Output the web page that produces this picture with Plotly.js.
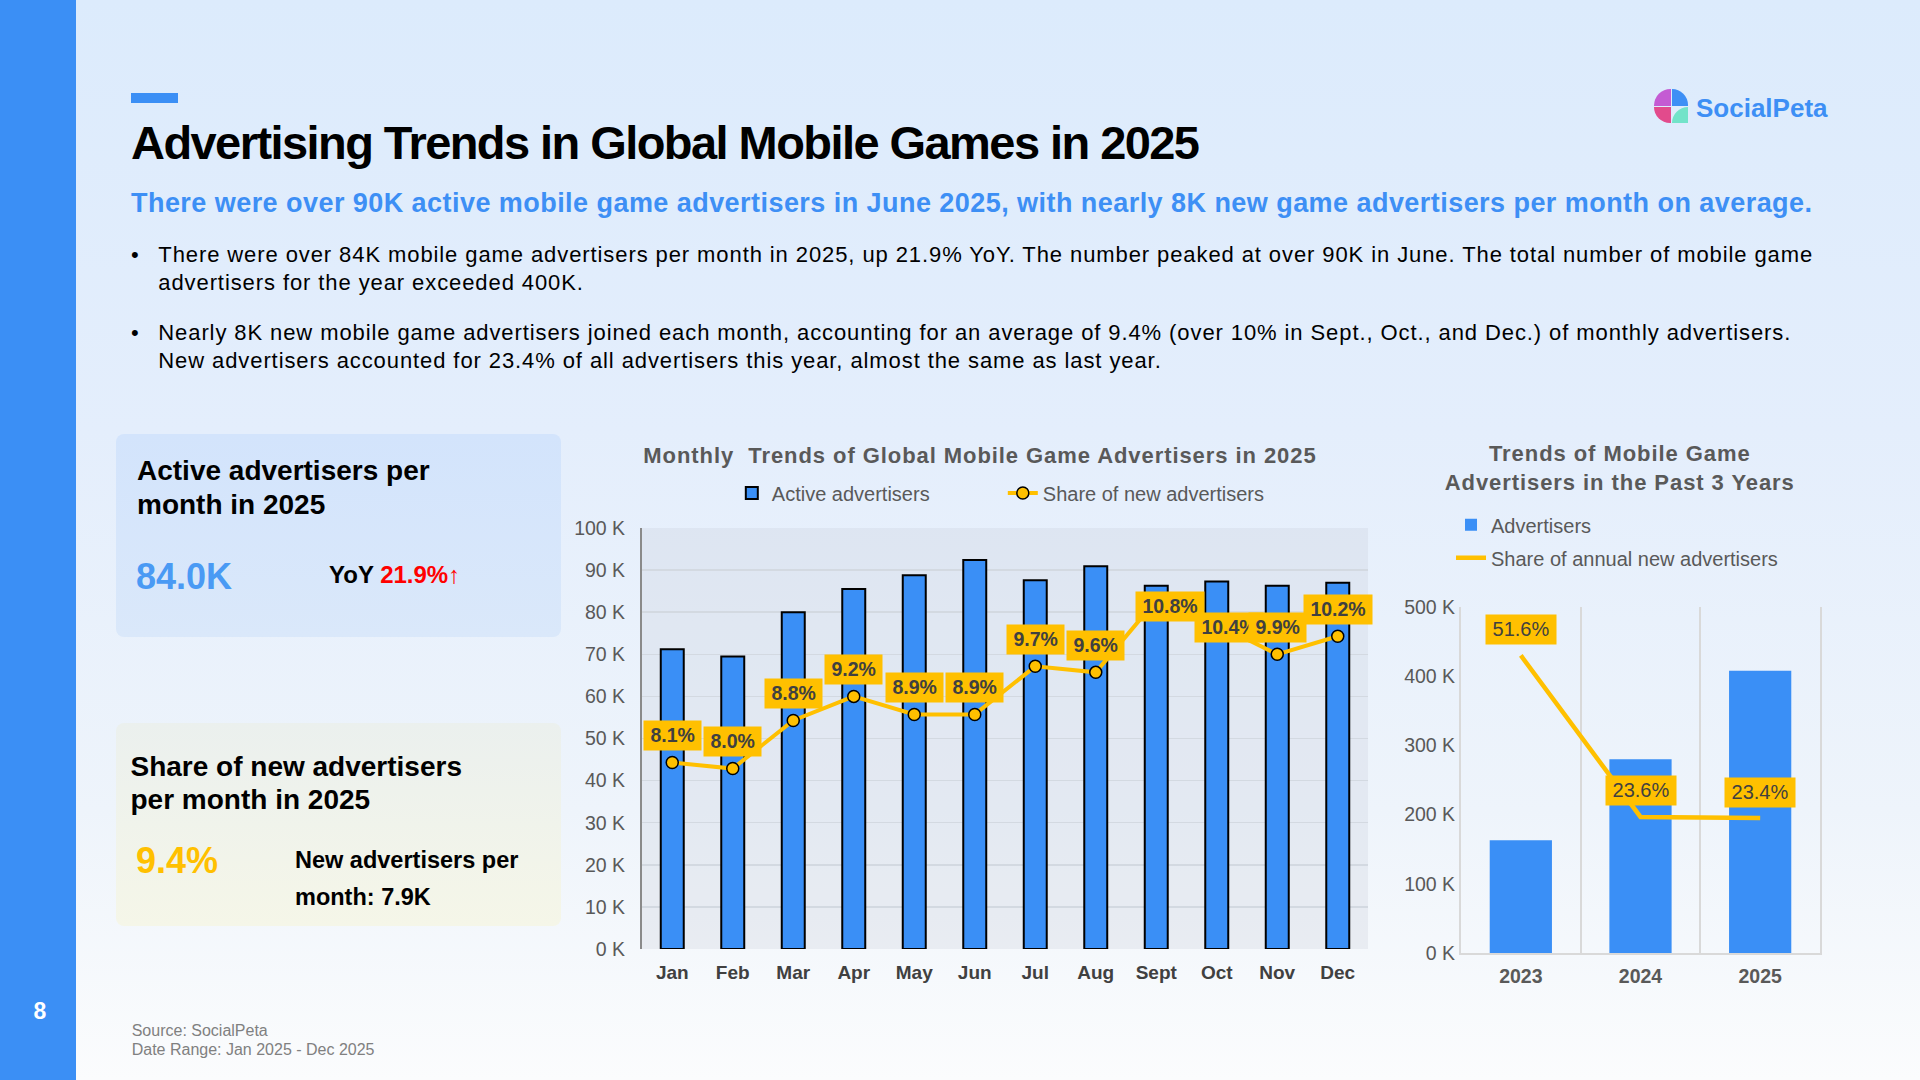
<!DOCTYPE html>
<html>
<head>
<meta charset="utf-8">
<script src="https://cdn.plot.ly/plotly-3.0.1.min.js"></script>
<style>
  html, body { margin:0; padding:0; width:1920px; height:1080px; overflow:hidden; }
  body {
    position:relative;
    background: linear-gradient(180deg, #dcebfc 0%, #e4eefc 40%, #eef4fb 75%, #fbfcfd 100%);
    font-family: "Liberation Sans", Arial, Helvetica, sans-serif;
  }
  .abs { position:absolute; white-space:nowrap; }
  #sidebar { left:0; top:0; width:76px; height:1080px; background:#3b8ff5; }
  #pagenum { left:0; width:80px; text-align:center; top:999.8px; font-size:23px; line-height:23px; font-weight:bold; color:#fff; }
  #topbar { left:131px; top:93px; width:47px; height:9.5px; background:#3b8ff5; }
  #title { left:131px; top:119.2px; font-size:47px; line-height:47px; font-weight:bold; color:#000; }
  #subtitle { left:131px; top:189.6px; font-size:27px; line-height:27px; font-weight:bold; color:#3d8ff5; }
  .bullet { left:131px; font-size:22px; line-height:28.3px; color:#000; }
  .btext { left:158.3px; font-size:22px; line-height:28.3px; color:#000; }
  .card { border-radius:8px; }
  #card1 { left:116px; top:434px; width:445px; height:203px; background:linear-gradient(180deg,#d3e4fc,#dae8fa); }
  #card2 { left:116px; top:722.5px; width:445px; height:203.5px; background:linear-gradient(180deg,#ebf0ee,#f5f6e8); }
  .cardtitle { font-size:28px; line-height:33.2px; font-weight:bold; color:#000; }
  #source { left:131.7px; top:1022px; font-size:16px; line-height:18.7px; color:#808080; }
  #logoicon { left:1654px; top:89.3px; width:34px; height:34px; }
  #logoicon div { position:absolute; width:16.5px; height:16.5px; }
  #logotext { left:1696px; top:94.7px; font-size:26px; line-height:26px; font-weight:bold; color:#3d8ff5; }
  #fig1 { position:absolute; left:560px; top:420px; width:830px; height:580px; z-index:10; }
  #fig2 { position:absolute; left:1380px; top:420px; width:540px; height:580px; z-index:11; }
  #fig1 .gtitle, #fig2 .gtitle { letter-spacing:0.93px; }
</style>
</head>
<body>
<div id="sidebar" class="abs"></div>
<div id="pagenum" class="abs">8</div>
<div id="topbar" class="abs"></div>
<div id="title" class="abs">Advertising Trends in Global Mobile Games in 2025</div>
<div id="subtitle" class="abs">There were over 90K active mobile game advertisers in June 2025, with nearly 8K new game advertisers per month on average.</div>

<div class="abs bullet" style="top:240.9px">•</div>
<div id="b1" class="abs btext" style="top:240.9px"><span id="b1l1">There were over 84K mobile game advertisers per month in 2025, up 21.9% YoY. The number peaked at over 90K in June. The total number of mobile game</span><br>advertisers for the year exceeded 400K.</div>
<div class="abs bullet" style="top:319.2px">•</div>
<div id="b2" class="abs btext" style="top:319.2px">Nearly 8K new mobile game advertisers joined each month, accounting for an average of 9.4% (over 10% in Sept., Oct., and Dec.) of monthly advertisers.<br>New advertisers accounted for 23.4% of all advertisers this year, almost the same as last year.</div>

<div id="card1" class="abs card"></div>
<div class="abs cardtitle" style="left:137px; top:454.4px">Active advertisers per<br>month in 2025</div>
<div class="abs" style="left:136px; top:559.3px; font-size:36px; line-height:36px; font-weight:bold; color:#4a9af4">84.0K</div>
<div class="abs" style="left:329px; top:562.9px; font-size:24px; line-height:24px; font-weight:bold; color:#000">YoY <span style="color:#ff0000">21.9%</span><span style="color:#ff0000; font-weight:normal">↑</span></div>

<div id="card2" class="abs card"></div>
<div class="abs cardtitle" style="left:130.5px; top:750.2px">Share of new advertisers<br>per month in 2025</div>
<div class="abs" style="left:136px; top:843.2px; font-size:36px; line-height:36px; font-weight:bold; color:#ffc000">9.4%</div>
<div class="abs" style="left:295px; top:842px; font-size:23.5px; line-height:36.5px; font-weight:bold; color:#000">New advertisers per<br>month: 7.9K</div>

<div id="source" class="abs">Source: SocialPeta<br>Date Range: Jan 2025 - Dec 2025</div>

<div id="logoicon" class="abs">
  <div style="left:0; top:0; background:#c45bd3; border-top-left-radius:16.5px;"></div>
  <div style="left:17.5px; top:0; background:#3d8ff5; border-top-right-radius:16.5px;"></div>
  <div style="left:0; top:17.5px; background:#e24b8c; border-bottom-left-radius:16.5px;"></div>
  <div style="left:17.5px; top:17.5px; background:#72e3c9; border-top-left-radius:16.5px;"></div>
</div>
<div id="logotext" class="abs">SocialPeta</div>

<div id="fig1"></div>
<div id="fig2"></div>

<script>
// ---------------- DATA ----------------
const months = ['Jan', 'Feb', 'Mar', 'Apr', 'May', 'Jun', 'Jul', 'Aug', 'Sept', 'Oct', 'Nov', 'Dec'];
const activeAdvertisersK = [71.2, 69.5, 80.0, 85.5, 88.8, 92.4, 87.6, 90.9, 86.3, 87.3, 86.3, 87.0];
const newAdvertiserSharePct = [8.1, 8.0, 8.8, 9.2, 8.9, 8.9, 9.7, 9.6, 10.8, 10.4, 9.9, 10.2];

const years = ['2023', '2024', '2025'];
const yearlyAdvertisersK = [163, 280, 408];
const annualNewSharePct = [51.6, 23.6, 23.4];

const monthlyTickValsK = [0, 10, 20, 30, 40, 50, 60, 70, 80, 90, 100];
const monthlyTickText = ['0 K', '10 K', '20 K', '30 K', '40 K', '50 K', '60 K', '70 K', '80 K', '90 K', '100 K'];
const yearlyTickValsK = [0, 100, 200, 300, 400, 500];
const yearlyTickText = ['0 K', '100 K', '200 K', '300 K', '400 K', '500 K'];

// ---------------- TEXT FITTING ----------------
function fitWidth(el, target) {
  const w = el.getBoundingClientRect().width;
  const n = el.textContent.length;
  const ls = (target - w) / Math.max(1, n - 1);
  el.style.letterSpacing = ls.toFixed(3) + 'px';
}
fitWidth(document.getElementById('title'), 1069);
fitWidth(document.getElementById('subtitle'), 1681);
(function () {
  const l1 = document.getElementById('b1l1');
  const w = l1.getBoundingClientRect().width;
  const ls = (1654 - w) / (l1.textContent.length - 1);
  document.getElementById('b1').style.letterSpacing = ls.toFixed(3) + 'px';
  document.getElementById('b2').style.letterSpacing = ls.toFixed(3) + 'px';
})();

// ---------------- CHARTS ----------------
const FONT = '"Liberation Sans", Arial, Helvetica, sans-serif';
const BAR_BLUE = '#3a8ff6';
const GOLD = '#ffc000';

const monthLabelShift = { 'Sept': { dx: 14, dy: -6 }, 'Oct': { dx: 12, dy: -3 } };

const fig1Data = [
  {
    type: 'bar', name: 'Active advertisers', x: months, y: activeAdvertisersK,
    marker: { color: BAR_BLUE, line: { color: '#000000', width: 2 } },
    hoverinfo: 'skip'
  },
  {
    type: 'scatter', mode: 'lines+markers', name: 'Share of new advertisers',
    x: months, y: newAdvertiserSharePct, yaxis: 'y2',
    line: { color: GOLD, width: 4 },
    marker: { size: 12, color: GOLD, line: { color: '#000000', width: 1.5 } },
    hoverinfo: 'skip'
  }
];

const fig1Annotations = months.map((m, i) => {
  const s = monthLabelShift[m] || { dx: 0, dy: 27 };
  return {
    x: i, y: newAdvertiserSharePct[i], xref: 'x', yref: 'y2',
    text: '\u00a0' + newAdvertiserSharePct[i].toFixed(1) + '%\u00a0',
    showarrow: false, bgcolor: GOLD, borderpad: 1, height: 26.5,
    font: { family: FONT, size: 19.5, weight: 'bold', color: '#404040' },
    xshift: s.dx, yshift: s.dy
  };
});

const fig1Layout = {
  width: 830, height: 580,
  margin: { l: 82.2, r: 22, t: 107.6, b: 51.4, pad: 0, autoexpand: false },
  paper_bgcolor: 'rgba(0,0,0,0)',
  plot_bgcolor: 'rgba(190,198,210,0.22)',
  font: { family: FONT, color: '#595959' },
  title: {
    text: 'Monthly\u00a0 Trends of Global Mobile Game Advertisers in 2025',
    font: { family: FONT, size: 22, weight: 'bold', color: '#595959' },
    xref: 'container', x: 0.506, xanchor: 'center',
    yref: 'container', y: 0.94, yanchor: 'middle'
  },
  showlegend: true,
  legend: {
    orientation: 'h', xref: 'container', yref: 'container',
    x: 0.207, xanchor: 'left', y: 0.874, yanchor: 'middle',
    entrywidth: 226, entrywidthmode: 'pixels',
    font: { family: FONT, size: 20, color: '#595959' },
    bgcolor: 'rgba(0,0,0,0)', borderwidth: 0
  },
  bargap: 0.62,
  xaxis: {
    type: 'category', range: [-0.5, 11.5], autorange: false,
    showgrid: false, showline: false, zeroline: false, ticks: '',
    tickfont: { family: FONT, size: 19, weight: 'bold', color: '#404040' },
    ticklabelstandoff: 10
  },
  yaxis: {
    range: [0, 100], tickmode: 'array', tickvals: monthlyTickValsK, ticktext: monthlyTickText,
    showgrid: true, gridcolor: '#d3d9e1', gridwidth: 1.5,
    showline: true, linecolor: '#8a8a8a', linewidth: 2, zeroline: false,
    ticks: '', tickfont: { family: FONT, size: 19.5, color: '#595959' },
    ticklabelstandoff: 11
  },
  yaxis2: { overlaying: 'y', side: 'right', range: [5, 12], visible: false, showgrid: false },
  annotations: fig1Annotations
};

const fig2Data = [
  {
    type: 'bar', name: 'Advertisers', x: years, y: yearlyAdvertisersK,
    marker: { color: BAR_BLUE }, hoverinfo: 'skip', legendgroup: 'g1'
  },
  {
    type: 'scatter', mode: 'lines', name: 'Share of annual new advertisers',
    x: years, y: annualNewSharePct, yaxis: 'y2',
    line: { color: GOLD, width: 4.5 }, hoverinfo: 'skip', legendgroup: 'g2'
  }
];

// category axis: annotations are placed by category index (years look numeric)
const fig2Annotations = years.map((yr, i) => ({
  x: i, y: annualNewSharePct[i], xref: 'x', yref: 'y2',
  text: '\u00a0' + annualNewSharePct[i].toFixed(1) + '%\u00a0',
  showarrow: false, bgcolor: GOLD, borderpad: 1, height: 26.5,
  font: { family: FONT, size: 20, color: '#404040' },
  yshift: 26
}));

const fig2Layout = {
  width: 540, height: 580,
  margin: { l: 80.6, r: 100, t: 186.8, b: 47.3, pad: 0, autoexpand: false },
  paper_bgcolor: 'rgba(0,0,0,0)',
  plot_bgcolor: 'rgba(0,0,0,0)',
  font: { family: FONT, color: '#595959' },
  title: {
    text: 'Trends of Mobile Game<br>Advertisers in the Past 3 Years',
    font: { family: FONT, size: 22, weight: 'bold', color: '#595959' },
    xref: 'container', x: 0.444, xanchor: 'center',
    yref: 'container', y: 0.929, yanchor: 'middle'
  },
  showlegend: true,
  legend: {
    orientation: 'v', xref: 'container', yref: 'container',
    x: 0.1315, xanchor: 'left', y: 0.853, yanchor: 'top',
    font: { family: FONT, size: 20, color: '#595959' },
    bgcolor: 'rgba(0,0,0,0)', borderwidth: 0,
    traceorder: 'grouped', tracegroupgap: 4
  },
  bargap: 0.48,
  xaxis: {
    type: 'category', range: [-0.5, 2.5], autorange: false,
    tickson: 'boundaries', ticks: '',
    showgrid: true, gridcolor: '#d9d9d9', gridwidth: 2,
    showline: true, linecolor: '#d9d9d9', linewidth: 2, zeroline: false,
    tickfont: { family: FONT, size: 19.5, weight: 'bold', color: '#595959' },
    ticklabelstandoff: 5
  },
  yaxis: {
    range: [0, 500], tickmode: 'array', tickvals: yearlyTickValsK, ticktext: yearlyTickText,
    showgrid: false, zeroline: false,
    showline: true, mirror: true, linecolor: '#d9d9d9', linewidth: 2,
    ticks: '', tickfont: { family: FONT, size: 19.5, color: '#595959' },
    ticklabelstandoff: 12.5
  },
  yaxis2: { overlaying: 'y', side: 'right', range: [0, 60], visible: false, showgrid: false },
  annotations: fig2Annotations
};

const cfg = { staticPlot: true, displayModeBar: false };
Plotly.newPlot('fig1', fig1Data, fig1Layout, cfg);
Plotly.newPlot('fig2', fig2Data, fig2Layout, cfg);
</script>
</body>
</html>
